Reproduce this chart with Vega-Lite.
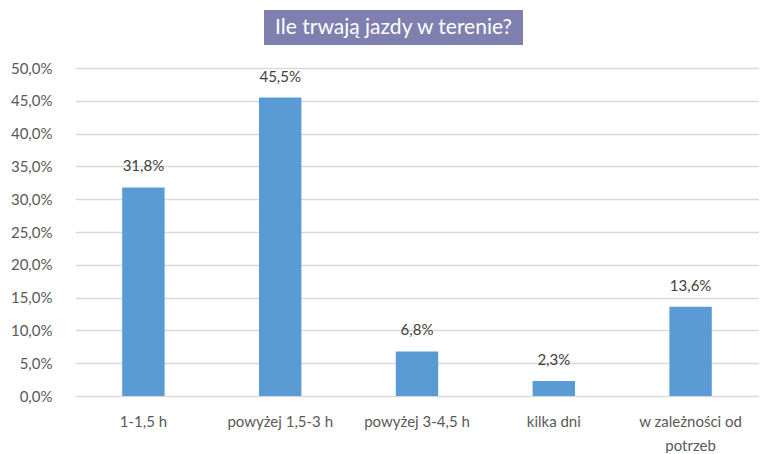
{
  "$schema": "https://vega.github.io/schema/vega-lite/v6.json",
  "padding": {"left": 10, "top": 10, "right": 0, "bottom": 0},
  "background": "white",
  "config": {"font": "Lato", "view": {"stroke": null}, "locale": {"number": {"decimal": ",", "thousands": " ", "grouping": [3], "currency": ["", " zł"]}}},
  "center": true,
  "spacing": 16,
  "vconcat": [
    {
      "width": 259,
      "height": 35,
      "view": {"fill": "#8080B0", "stroke": null},
      "title": {"text": "x", "orient": "right", "fontSize": 46, "color": "transparent", "offset": 0},
      "data": {"values": [{"t": "Ile trwają jazdy w terenie?"}]},
      "mark": {"type": "text", "color": "white", "fontSize": 21, "font": "Lato"},
      "encoding": {"text": {"field": "t"}}
    },
    {
      "width": 684,
      "height": 328,
      "data": {"values": [
        {"kategoria": "1-1,5 h", "udzial": 0.318},
        {"kategoria": "powyżej 1,5-3 h", "udzial": 0.455},
        {"kategoria": "powyżej 3-4,5 h", "udzial": 0.068},
        {"kategoria": "kilka dni", "udzial": 0.023},
        {"kategoria": "w zależności od potrzeb", "udzial": 0.136}
      ]},
      "encoding": {
        "x": {
          "field": "kategoria", "type": "nominal", "sort": null,
          "scale": {"paddingInner": 0.69, "paddingOuter": 0.345},
          "axis": {
            "title": null, "labelAngle": 0, "ticks": false, "domain": false,
            "labelFontSize": 15, "labelColor": "#595959", "labelPadding": 18,
            "labelExpr": "datum.value == 'w zależności od potrzeb' ? ['w zależności od', 'potrzeb'] : datum.value",
            "labelLineHeight": 24
          }
        },
        "y": {
          "field": "udzial", "type": "quantitative",
          "scale": {"domain": [0, 0.5]},
          "axis": {
            "title": null, "values": [0, 0.05, 0.1, 0.15, 0.2, 0.25, 0.3, 0.35, 0.4, 0.45, 0.5],
            "format": ".1%",
            "ticks": false, "domain": false, "labelFontSize": 15, "labelColor": "#595959",
            "labelPadding": 23, "gridColor": "#d9d9d9", "gridWidth": 1.5
          }
        }
      },
      "layer": [
        {"mark": {"type": "bar", "color": "#5B9BD5"}},
        {
          "mark": {"type": "text", "baseline": "middle", "dy": -21, "fontSize": 15, "color": "#404040"},
          "encoding": {"text": {"field": "udzial", "type": "quantitative", "format": ".1%"}}
        }
      ]
    }
  ]
}
